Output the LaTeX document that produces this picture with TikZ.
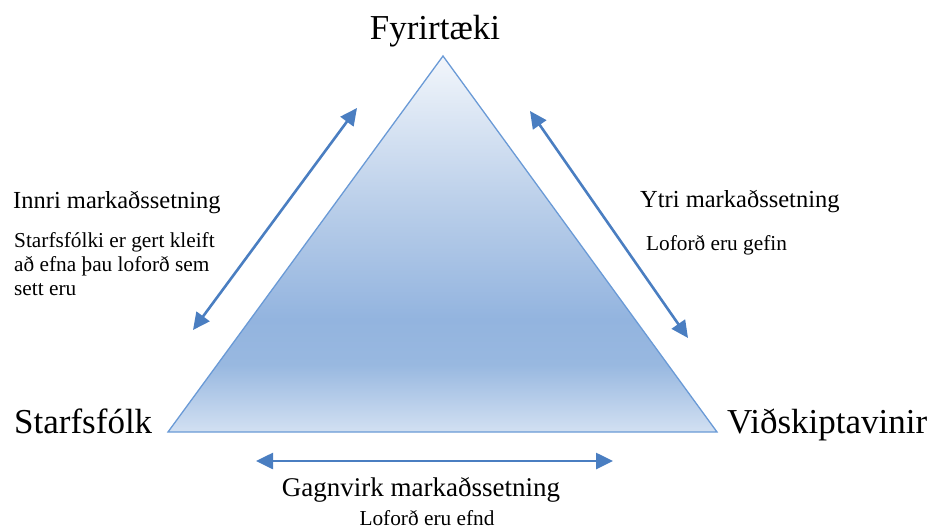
\documentclass[tikz,border=0pt]{standalone}
\usepackage{fontspec}
\setmainfont{Liberation Serif}
\usetikzlibrary{arrows.meta}
\definecolor{edgeblue}{HTML}{6A9AD6}
\definecolor{arrowblue}{HTML}{4A7EC1}
\definecolor{shA}{HTML}{F2F6FB}
\definecolor{shB}{HTML}{BCD0EA}
\definecolor{shC}{HTML}{93B4DF}
\definecolor{shD}{HTML}{98B8E0}
\definecolor{shE}{HTML}{D2E0F2}
\pgfdeclareverticalshading{trishade}{100bp}{color(0bp)=(shE); color(25bp)=(shE); color(34bp)=(shD); color(40bp)=(shC); color(56bp)=(shB); color(75bp)=(shA); color(100bp)=(shA)}
\tikzset{
  biglabel/.style={font=\fontsize{35}{40}\selectfont, inner sep=0pt},
  headlabel/.style={font=\fontsize{24.5}{28}\selectfont, inner sep=0pt},
  sublabel/.style={font=\fontsize{21.3}{24}\selectfont, inner sep=0pt, align=left},
  twoway/.style={draw=arrowblue, line width=2.6pt, {Triangle[length=17pt,width=16pt]}-{Triangle[length=17pt,width=16pt]}},
  tri/.style={draw=edgeblue, line width=1.3pt, shading=trishade, line join=miter}
}
\begin{document}
\begin{tikzpicture}[x=1pt,y=-1pt]
\useasboundingbox (0,0) rectangle (934,530);
% triangle
\coordinate (A) at (443,56);
\coordinate (L) at (168,432);
\coordinate (R) at (717,432);
\path[tri] (A) -- (L) -- (R) -- cycle;
% vertex labels
\node[biglabel, anchor=base] (fyr) at (435,39) {Fyrirtæki};
\node[biglabel, anchor=base west] (sta) at (14,433) {Starfsfólk};
\node[biglabel, anchor=base west] (vid) at (727,433) {Viðskiptavinir};
% arrows
\coordinate (a1) at (193,330);
\coordinate (a2) at (357,108);
\coordinate (b1) at (530,111);
\coordinate (b2) at (688,338);
\coordinate (c1) at (256,461);
\coordinate (c2) at (613,461);
\draw[twoway] (a1) -- (a2);
\draw[twoway] (b1) -- (b2);
\draw[twoway] (c1) -- (c2);
% side texts
\node[headlabel, anchor=base west] (inn) at (13,208) {Innri markaðssetning};
\node[sublabel, anchor=north west] (innt) at (14,232) {Starfsfólki er gert kleift\\að efna þau loforð sem\\sett eru};
\node[headlabel, anchor=base west] (ytr) at (640,207) {Ytri markaðssetning};
\node[sublabel, anchor=base west] (ytrt) at (646,250) {Loforð eru gefin};
\node[headlabel, font=\fontsize{27}{30}\selectfont, anchor=base] (gag) at (421,496) {Gagnvirk markaðssetning};
\node[sublabel, anchor=base] (gagt) at (427,525) {Loforð eru efnd};
\end{tikzpicture}
\end{document}
